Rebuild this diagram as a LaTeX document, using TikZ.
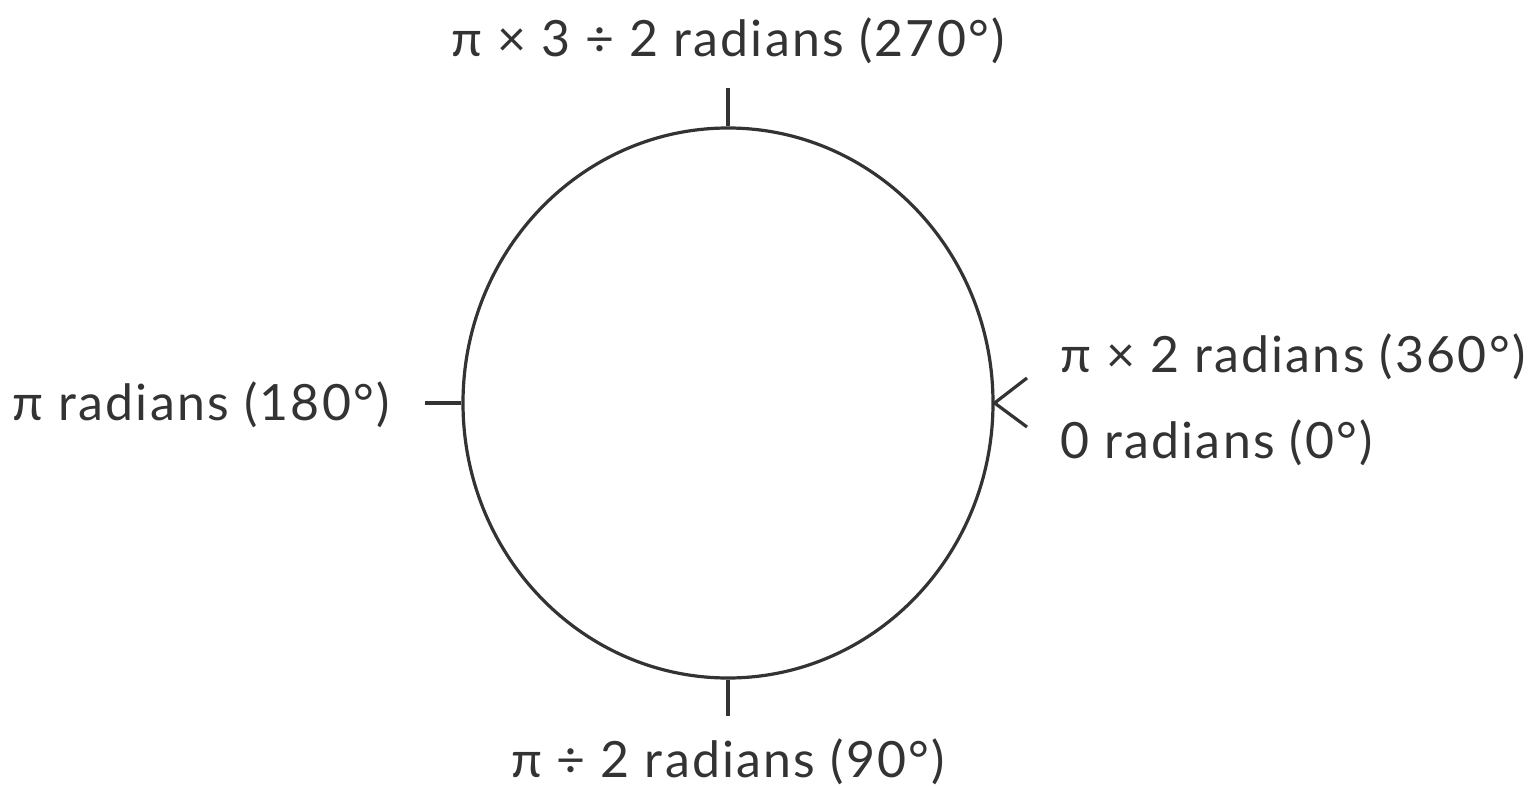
\documentclass[tikz,border=0pt]{standalone}
\usepackage{fontspec}
\setmainfont{Lato}[LetterSpace=4.5]
\usetikzlibrary{shapes.geometric}
\definecolor{ink}{HTML}{333333}
\begin{document}
\begin{tikzpicture}[x=1pt, y=-1pt]
    \tikzstyle{lbl}=[text=ink, font=\fontsize{50}{54}\selectfont, inner sep=0pt]
    \tikzstyle{tick}=[line width=3.2pt, draw=ink]
    \useasboundingbox (0,0) rectangle (1540,786);
    \node[ellipse, draw=ink, line width=3.2pt, minimum width=530pt, minimum height=550pt, inner sep=0pt] (ring) at (728,403) {};
    \coordinate (topend) at (728,88);
    \coordinate (botend) at (728,716);
    \coordinate (leftend) at (425,403);
    \coordinate (upend) at (1027,378);
    \coordinate (lowend) at (1027,427);
    \draw[tick] (ring.north) -- (topend);
    \draw[tick] (ring.south) -- (botend);
    \draw[tick] (ring.west) -- (leftend);
    \draw[tick] (upend) -- (ring.east) -- (lowend);
    \node[lbl, anchor=base] (top) at (728,57) {π × 3 ÷ 2 radians (270°)};
    \node[lbl, anchor=base] (bottom) at (728,777) {π ÷ 2 radians (90°)};
    \node[lbl, anchor=base east] (left) at (390,420) {π radians (180°)};
    \node[lbl, anchor=base west] (full) at (1060,373) {π × 2 radians (360°)};
    \node[lbl, anchor=base west] (zero) at (1060,458) {0 radians (0°)};
  \end{tikzpicture}
\end{document}
